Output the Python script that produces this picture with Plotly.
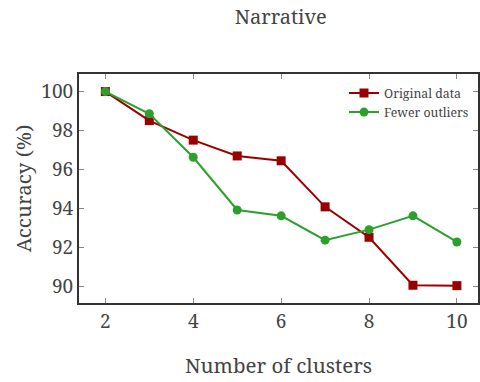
import plotly.graph_objects as go

# Clustering accuracy for each number of clusters
clusters = [2, 3, 4, 5, 6, 7, 8, 9, 10]
original_data = [100.0, 98.51, 97.51, 96.70, 96.45, 94.09, 92.53, 90.07, 90.05]
fewer_outliers = [100.0, 98.86, 96.63, 93.93, 93.63, 92.38, 92.92, 93.63, 92.29]

x_ticks = [2, 4, 6, 8, 10]
y_ticks = [90, 92, 94, 96, 98, 100]

FONT = "Noto Serif, DejaVu Serif, serif"
TEXT = "#444444"

fig = go.Figure()
fig.add_trace(go.Scatter(
    x=clusters, y=original_data, name="Original data",
    mode="lines+markers",
    line=dict(color="#990000", width=2),
    marker=dict(symbol="square", size=9, color="#990000"),
))
fig.add_trace(go.Scatter(
    x=clusters, y=fewer_outliers, name="Fewer outliers",
    mode="lines+markers",
    line=dict(color="#2ca02c", width=2),
    marker=dict(symbol="circle", size=9, color="#2ca02c"),
))

axis_common = dict(
    showline=True, linecolor="#333333", linewidth=2, mirror="ticks",
    ticks="inside", ticklen=5, tickwidth=1, tickcolor="#888888",
    showgrid=False, zeroline=False,
    tickfont=dict(family=FONT, size=19, color=TEXT),
)

fig.update_layout(
    width=480, height=382,
    margin=dict(l=79, r=0, t=74, b=79),
    paper_bgcolor="white", plot_bgcolor="white",
    font=dict(family=FONT, color=TEXT),
    title=dict(text="Narrative", x=0.585, xanchor="center", y=0.955, yanchor="middle",
               font=dict(family=FONT, size=20, color=TEXT)),
    xaxis=dict(range=[1.4, 10.48], tickvals=x_ticks,
               title=dict(text="Number of clusters", font=dict(family=FONT, size=20.5, color=TEXT),
                          standoff=26),
               **axis_common),
    yaxis=dict(range=[89.16, 100.9], tickvals=y_ticks,
               title=dict(text="Accuracy (%)", font=dict(family=FONT, size=20.5, color=TEXT),
                          standoff=4),
               **axis_common),
    legend=dict(x=0.99, y=0.98, xanchor="right", yanchor="top",
                bgcolor="rgba(255,255,255,0)",
                font=dict(family=FONT, size=12.3, color=TEXT),
                itemwidth=30, tracegroupgap=0),
    showlegend=True,
)

fig.write_html("out.html")
